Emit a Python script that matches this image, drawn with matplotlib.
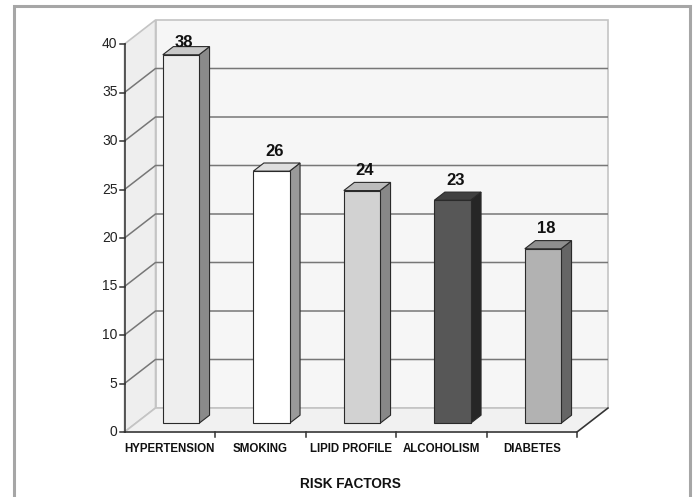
import matplotlib
matplotlib.use("Agg")
import matplotlib.pyplot as plt
from matplotlib.patches import Polygon, Rectangle

plt.rcParams['font.family'] = ['Liberation Sans', 'DejaVu Sans']

# ---------------- data ----------------
categories = ["HYPERTENSION", "SMOKING", "LIPID PROFILE", "ALCOHOLISM", "DIABETES"]
values = [38, 26, 24, 23, 18]
front_colors = ["#eeeeee", "#ffffff", "#d2d2d2", "#575757", "#b2b2b2"]
side_colors = ["#8a8a8a", "#9a9a9a", "#888888", "#262626", "#656565"]
top_colors = ["#c8c8c8", "#dedede", "#bcbcbc", "#404040", "#8e8e8e"]
y_ticks = [0, 5, 10, 15, 20, 25, 30, 35, 40]
x_title = "RISK FACTORS"

# ---------------- geometry (style) ----------------
W, H = 693, 497
PX_CAT = 90.5      # pixels per category
PX_VAL = 9.7       # pixels per unit
X0_PX = 124.5      # pixel of x = -0.5
Y0_PX = 432        # pixel of y = 0
DX = 31 / PX_CAT   # wall depth in data units
DY = 24 / PX_VAL
F0, F1 = 0.36, 0.70   # bar depth fraction (front, back)
BAR_W = 0.40
YMAX = 40
LABEL_MAX = (Y0_PX - 50) / PX_VAL   # labels kept inside the plot area
n = len(categories)

fig = plt.figure(figsize=(W / 100, H / 100), dpi=100)
ax = fig.add_axes([0, 0, 1, 1])
ax.set_xlim((0 - X0_PX) / PX_CAT - 0.5, (W - X0_PX) / PX_CAT - 0.5)
ax.set_ylim((Y0_PX - H) / PX_VAL, Y0_PX / PX_VAL)
ax.axis('off')

xl, xr = -0.5, n - 0.5
wall_edge = "#c4c4c4"
grid_c = "#777777"

# back wall
ax.add_patch(Polygon([(xl + DX, DY), (xr + DX, DY), (xr + DX, YMAX + DY), (xl + DX, YMAX + DY)],
                     closed=True, fc="#f6f6f6", ec=wall_edge, lw=1.2, zorder=1))
# left wall
ax.add_patch(Polygon([(xl, 0), (xl + DX, DY), (xl + DX, YMAX + DY), (xl, YMAX)],
                     closed=True, fc="#eeeeee", ec=wall_edge, lw=1.2, zorder=1))
# floor
ax.add_patch(Polygon([(xl, 0), (xr, 0), (xr + DX, DY), (xl + DX, DY)],
                     closed=True, fc="#f1f1f1", ec=wall_edge, lw=1.2, zorder=1))

# gridlines
for t in y_ticks[1:-1]:
    ax.plot([xl, xl + DX, xr + DX], [t, t + DY, t + DY], color=grid_c, lw=1.1, zorder=2,
            solid_capstyle='butt')

# axes lines
ax.plot([xl, xl], [0, YMAX], color="#333333", lw=1.1, zorder=2)
ax.plot([xl, xr, xr + DX], [0, 0, DY], color="#333333", lw=1.1, zorder=2)

# y ticks
tick_len = 5 / PX_CAT
for t in y_ticks:
    ax.plot([xl - tick_len, xl], [t, t], color="#333333", lw=1.1, zorder=2)
    ax.text(xl - tick_len - 2 / PX_CAT, t, str(t), ha='right', va='center',
            fontsize=10, color="#222222")

# x ticks at category boundaries
for i in range(n):
    b = i + 0.5
    ax.plot([b, b], [0, -5 / PX_VAL], color="#333333", lw=1.1, zorder=2)

# bars
for i, (v, fc, sc, tc) in enumerate(zip(values, front_colors, side_colors, top_colors)):
    x0 = i - BAR_W / 2 + F0 * DX
    x1 = i + BAR_W / 2 + F0 * DX
    y0 = F0 * DY
    y1 = v + F0 * DY
    ddx = (F1 - F0) * DX
    ddy = (F1 - F0) * DY
    ec = "#2a2a2a"
    ax.add_patch(Polygon([(x1, y0), (x1 + ddx, y0 + ddy), (x1 + ddx, y1 + ddy), (x1, y1)],
                         closed=True, fc=sc, ec=ec, lw=0.8, zorder=3))
    ax.add_patch(Polygon([(x0, y1), (x1, y1), (x1 + ddx, y1 + ddy), (x0 + ddx, y1 + ddy)],
                         closed=True, fc=tc, ec=ec, lw=0.8, zorder=3))
    ax.add_patch(Rectangle((x0, y0), x1 - x0, y1 - y0, fc=fc, ec=ec, lw=0.8, zorder=4))
    ly = min(y1 + ddy + 0.45, LABEL_MAX)
    ax.text(i + 14 / PX_CAT, ly, str(v), ha='center', va='bottom',
            fontsize=12, fontweight='bold', color="#111111", zorder=5)

# category labels
for i, c in enumerate(categories):
    ax.text(i, (Y0_PX - 449) / PX_VAL, c, ha='center', va='center', fontsize=8.3,
            fontweight='bold', color="#111111")

ax.text((n - 1) / 2, (Y0_PX - 484) / PX_VAL, x_title, ha='center', va='center',
        fontsize=9.8, fontweight='bold', color="#111111")

# outer frame
fig.patches.append(Rectangle((14 / W, -0.02), (690 - 14) / W, 1.02 - 6 / H,
                             transform=fig.transFigure, fill=False, ec="#a6a6a6", lw=2.2))

fig.savefig("out.png", dpi=100)
